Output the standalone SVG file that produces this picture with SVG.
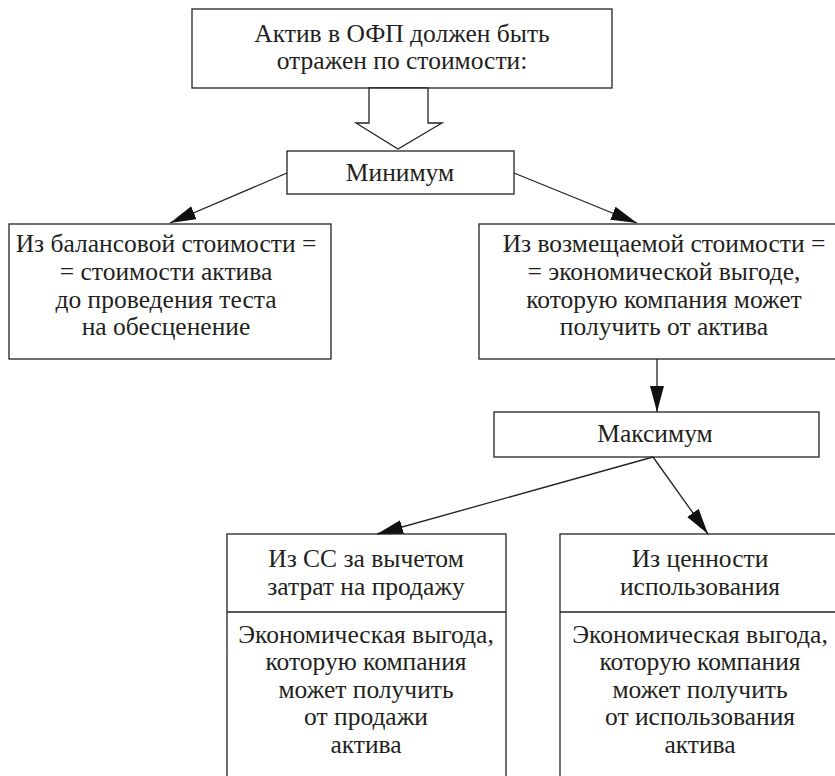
<svg xmlns="http://www.w3.org/2000/svg" width="835" height="776" viewBox="0 0 835 776">
<defs>
<style>
.box{fill:#fff;stroke:#222;stroke-width:1.3}
.ln{fill:none;stroke:#222;stroke-width:1.3}
text{font-family:"Liberation Serif","Times New Roman",serif;font-size:25.5px;fill:#231f20;text-anchor:middle}
</style>
<marker id="ah" markerUnits="userSpaceOnUse" markerWidth="28" markerHeight="16" refX="26" refY="7" orient="auto">
<path d="M0,0 L26,7 L0,14 z" fill="#111"/>
</marker>
</defs>
<rect width="835" height="776" fill="#fff"/>
<g id="top">
<rect class="box" x="192" y="9" width="420" height="79"/>
<text x="402" y="42">Актив в ОФП должен быть</text>
<text x="402" y="69">отражен по стоимости:</text>
</g>
<g id="hollow-arrow">
<polygon class="box" points="369,88 428,88 428,123 442,123 398,149 356,123 369,123"/>
</g>
<g id="min">
<rect class="box" x="287" y="151" width="227" height="43"/>
<text x="400" y="181">Минимум</text>
</g>
<g id="balance">
<rect class="box" x="9" y="224" width="322" height="135"/>
<text x="166" y="252">Из балансовой стоимости =</text>
<text x="166" y="280">= стоимости актива</text>
<text x="166" y="308">до проведения теста</text>
<text x="166" y="335">на обесценение</text>
</g>
<g id="recoverable">
<rect class="box" x="479" y="224" width="365" height="135"/>
<text x="664" y="252">Из возмещаемой стоимости =</text>
<text x="664" y="280">= экономической выгоде,</text>
<text x="664" y="308">которую компания может</text>
<text x="664" y="335">получить от актива</text>
</g>
<g id="max">
<rect class="box" x="494" y="412" width="325" height="45"/>
<text x="655" y="442">Максимум</text>
</g>
<g id="fair-value">
<rect class="box" x="227" y="534" width="279" height="250"/>
<line class="ln" x1="227" y1="612" x2="506" y2="612"/>
<text x="366" y="567">Из СС за вычетом</text>
<text x="366" y="595">затрат на продажу</text>
<text x="366" y="643">Экономическая выгода,</text>
<text x="366" y="670">которую компания</text>
<text x="366" y="698">может получить</text>
<text x="366" y="725">от продажи</text>
<text x="366" y="753">актива</text>
</g>
<g id="value-in-use">
<rect class="box" x="560" y="534" width="284" height="250"/>
<line class="ln" x1="560" y1="612" x2="844" y2="612"/>
<text x="700" y="567">Из ценности</text>
<text x="700" y="595">использования</text>
<text x="700" y="643">Экономическая выгода,</text>
<text x="700" y="670">которую компания</text>
<text x="700" y="698">может получить</text>
<text x="700" y="725">от использования</text>
<text x="700" y="753">актива</text>
</g>
<g id="connectors">
<line class="ln" x1="287" y1="173" x2="170" y2="223" marker-end="url(#ah)"/>
<line class="ln" x1="514" y1="173" x2="637" y2="223" marker-end="url(#ah)"/>
<line class="ln" x1="657" y1="359" x2="657" y2="412" marker-end="url(#ah)"/>
<line class="ln" x1="653" y1="457" x2="377" y2="534" marker-end="url(#ah)"/>
<line class="ln" x1="653" y1="457" x2="708" y2="534" marker-end="url(#ah)"/>
</g>
</svg>
